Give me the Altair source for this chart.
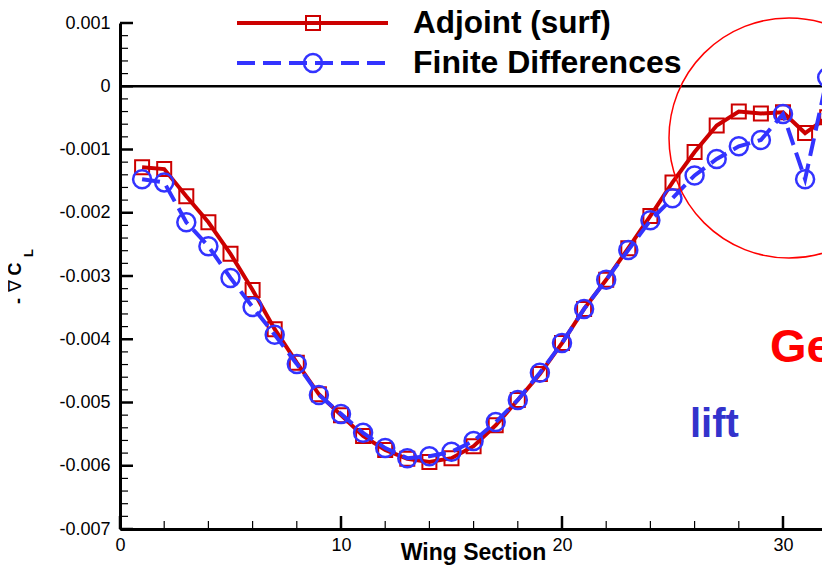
import altair as alt
import pandas as pd

# ---------------- data ----------------
sections = list(range(1, 33))
adjoint = [-0.00128, -0.00131, -0.00174, -0.00215, -0.00265, -0.00322, -0.00384, -0.00437,
           -0.00487, -0.00520, -0.00553, -0.00575, -0.00589, -0.00594, -0.00588, -0.00569,
           -0.00536, -0.00496, -0.00455, -0.00406, -0.00352, -0.00306, -0.00256, -0.00205,
           -0.00152, -0.00104, -0.00062, -0.00040, -0.00043, -0.00041, -0.00074, -0.00049]
finite = [-0.00147, -0.00152, -0.00215, -0.00253, -0.00303, -0.00349, -0.00393, -0.00439,
          -0.00488, -0.00518, -0.00548, -0.00572, -0.00588, -0.00585, -0.00578, -0.00561,
          -0.00531, -0.00496, -0.00453, -0.00406, -0.00352, -0.00306, -0.00259, -0.00212,
          -0.00177, -0.00141, -0.00115, -0.00095, -0.00085, -0.00044, -0.00147, 0.00014]
series_names = ["Adjoint (surf)", "Finite Differences"]
annotations = ["Ge", "lift"]
y_title_parts = ["-", "\u2207", "C", "L"]
x_title = "Wing Section"

x_label_values = [0, 10, 20, 30]
x_minor_values = [2, 4, 6, 8, 12, 14, 16, 18, 22, 24, 26, 28, 32]
y_label_values = [0.001, 0.0, -0.001, -0.002, -0.003, -0.004, -0.005, -0.006, -0.007]
y_minor_values = [round(-0.007 + 0.0002 * i, 4) for i in range(41) if i % 5 != 0]
zero_line = [0.0]

# ---------------- style ----------------
RED = "#cc0000"
BLUE = "#3333ff"
FONT = "Liberation Sans"
W, H = 702, 506
XMAX = 31.765

xscale = alt.Scale(domain=[0, XMAX], nice=False, zero=False)
yscale = alt.Scale(domain=[-0.007, 0.001], nice=False, zero=False)

xaxis = alt.Axis(values=x_label_values, ticks=False, tickSize=0, grid=False,
                 domainColor="black", domainWidth=3,
                 labelFont=FONT, labelFontSize=18, labelColor="black", labelPadding=7,
                 labelAngle=0, labelFlush=False, format="d",
                 title=x_title, titleFont=FONT, titleFontSize=23, titleFontWeight="bold",
                 titleColor="black", titleX=353, titleY=30, titleAlign="center",
                 titleBaseline="alphabetic")
yaxis = alt.Axis(values=y_label_values, ticks=False, tickSize=0, grid=False,
                 domainColor="black", domainWidth=3,
                 labelFont=FONT, labelFontSize=18, labelColor="black", labelPadding=10,
                 labelFlush=False, labelOverlap=False,
                 labelExpr="datum.value == 0 ? '0' : replace(format(datum.value, '.3f'), '\u2212', '-')",
                 title=None)

X = alt.X("section:Q", scale=xscale, axis=xaxis)
Y = alt.Y("value:Q", scale=yscale, axis=yaxis)

df_adj = pd.DataFrame({"section": sections, "value": adjoint})
df_fd = pd.DataFrame({"section": sections, "value": finite})

adj_line = alt.Chart(df_adj).mark_line(color=RED, strokeWidth=4).encode(x=X, y=Y)
adj_pts = alt.Chart(df_adj).mark_point(shape="square", size=196, filled=False, color=RED,
                                       strokeWidth=2, opacity=1).encode(x=X, y=Y)
fd_line = alt.Chart(df_fd).mark_line(color=BLUE, strokeWidth=4, strokeDash=[18, 8]).encode(x=X, y=Y)
fd_pts = alt.Chart(df_fd).mark_point(shape="circle", size=324, filled=False, color=BLUE,
                                     strokeWidth=2.5, opacity=1).encode(x=X, y=Y)

zero = alt.Chart(pd.DataFrame({"value": zero_line})).mark_rule(color="black", strokeWidth=2.5).encode(y=Y)

y_major = alt.Chart(pd.DataFrame({"value": y_label_values})).mark_rule(color="black", strokeWidth=2.5).encode(
    y=Y, x=alt.value(0), x2=alt.value(13))
y_minor = alt.Chart(pd.DataFrame({"value": y_minor_values})).mark_rule(color="black", strokeWidth=1.2).encode(
    y=Y, x=alt.value(0), x2=alt.value(8))
x_major = alt.Chart(pd.DataFrame({"section": x_label_values})).mark_rule(color="black", strokeWidth=2.5).encode(
    x=X, y=alt.value(H), y2=alt.value(H - 13))
x_minor = alt.Chart(pd.DataFrame({"section": x_minor_values})).mark_rule(color="black", strokeWidth=1.2).encode(
    x=X, y=alt.value(H), y2=alt.value(H - 8))

# ---------------- legend (drawn) ----------------
lg0 = pd.DataFrame({"label": [series_names[0]]})
lg1 = pd.DataFrame({"label": [series_names[1]]})
leg_line0 = alt.Chart(lg0).mark_rule(color=RED, strokeWidth=4).encode(
    x=alt.value(117), x2=alt.value(268), y=alt.value(0))
leg_pt0 = alt.Chart(lg0).mark_point(shape="square", size=196, filled=False, color=RED,
                                    strokeWidth=2, opacity=1).encode(x=alt.value(193), y=alt.value(0))
leg_txt0 = alt.Chart(lg0).mark_text(align="left", baseline="alphabetic", font=FONT, fontSize=31.5,
                                    fontWeight="bold", color="black").encode(
    x=alt.value(293), y=alt.value(10), text="label:N")
leg_line1 = alt.Chart(lg1).mark_rule(color=BLUE, strokeWidth=4, strokeDash=[18, 8]).encode(
    x=alt.value(117), x2=alt.value(268), y=alt.value(40))
leg_pt1 = alt.Chart(lg1).mark_point(shape="circle", size=324, filled=False, color=BLUE,
                                    strokeWidth=2.5, opacity=1).encode(x=alt.value(193), y=alt.value(40))
leg_txt1 = alt.Chart(lg1).mark_text(align="left", baseline="alphabetic", font=FONT, fontSize=32,
                                    fontWeight="bold", color="black").encode(
    x=alt.value(293), y=alt.value(50), text="label:N")

# ---------------- annotations ----------------
ann = pd.DataFrame({"t": [annotations[0]]})
ann2 = pd.DataFrame({"t": [annotations[1]]})
big_circle = alt.Chart(ann).mark_point(shape="circle", size=57600, filled=False, stroke="#ff0000",
                                       strokeWidth=1.5, opacity=1).encode(x=alt.value(669), y=alt.value(115))
ge_txt = alt.Chart(ann).mark_text(align="left", baseline="alphabetic", font=FONT, fontSize=47,
                                  fontWeight="bold", color="#ff0000").encode(
    x=alt.value(650), y=alt.value(339), text="t:N")
lift_txt = alt.Chart(ann2).mark_text(align="left", baseline="alphabetic", font=FONT, fontSize=40,
                                     fontWeight="bold", color="#3333cc").encode(
    x=alt.value(570), y=alt.value(414), text="t:N")

# y-axis title: "-", nabla, "C" with subscript "L", rotated
def ytext(part, x, y, size, font, weight, align="center"):
    return alt.Chart(pd.DataFrame({"t": [part]})).mark_text(
        align=align, baseline="alphabetic", angle=270, font=font, fontSize=size,
        fontWeight=weight, color="black").encode(x=alt.value(x), y=alt.value(y), text="t:N")

yt_minus = ytext(y_title_parts[0], -96, 278, 18, FONT, "bold")
yt_nabla = ytext(y_title_parts[1], -99, 263, 18, "DejaVu Sans", "normal")
yt_c = ytext(y_title_parts[2], -99, 246, 18, FONT, "bold")
yt_l = ytext(y_title_parts[3], -87, 234, 13, FONT, "bold", align="left")

chart = alt.layer(
    zero, y_minor, y_major, x_minor, x_major,
    adj_line, adj_pts, fd_line, fd_pts,
    leg_line0, leg_pt0, leg_txt0, leg_line1, leg_pt1, leg_txt1,
    big_circle, ge_txt, lift_txt, yt_minus, yt_nabla, yt_c, yt_l,
).properties(
    width=W, height=H,
    autosize=alt.AutoSizeParams(type="none"),
    padding={"left": 112, "top": 15, "right": 0, "bottom": 36},
).configure_view(stroke=None)

chart.save("out.html", embed_options={"renderer": "svg", "actions": False})
